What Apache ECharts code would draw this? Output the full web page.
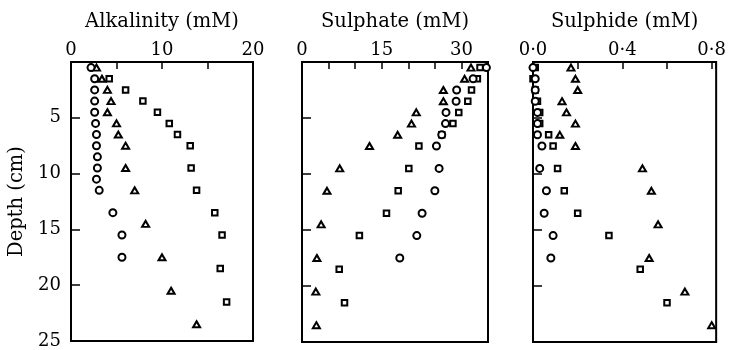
<!DOCTYPE html>
<html>
<head>
<meta charset="utf-8">
<script src="https://cdn.jsdelivr.net/npm/echarts@6/dist/echarts.min.js"></script>
<style>html,body{margin:0;background:#fff}#container1{width:729px;height:350px}</style>
</head>
<body>
<div id="container1"></div>
<script>
// depths (cm) of each marker set
var triangleDepth = [0.5, 1.5, 2.5, 3.5, 4.5, 5.5, 6.5, 7.5, 9.5, 11.5, 14.5, 17.5, 20.5, 23.5];
var squareDepth = [0.5, 1.5, 2.5, 3.5, 4.5, 5.5, 6.5, 7.5, 9.5, 11.5, 13.5, 15.5, 18.5, 21.5];
var circleDepth = [0.5, 1.5, 2.5, 3.5, 4.5, 5.5, 6.5, 7.5, 8.5, 9.5, 10.5, 11.5, 13.5, 15.5, 17.5];

// alkalinity (mM)
var alkTriangle = [2.8, 3.4, 4.0, 4.4, 4.0, 5.0, 5.2, 6.0, 6.0, 7.0, 8.2, 10.0, 11.0, 13.8];
var alkSquare = [null, 4.2, 6.0, 7.9, 9.5, 10.8, 11.7, 13.1, 13.2, 13.8, 15.8, 16.6, 16.4, 17.1];
var alkCircle = [2.2, 2.6, 2.6, 2.6, 2.6, 2.7, 2.8, 2.8, 2.9, 2.9, 2.8, 3.1, 4.6, 5.6, 5.6];

// sulphate (mM)
var so4Triangle = [31.8, 30.6, 26.6, 26.6, 21.5, 20.6, 18.0, 12.7, 7.1, 4.7, 3.6, 2.8, 2.6, 2.7];
var so4Square = [33.5, 33.0, 31.9, 31.2, 29.5, 28.4, 26.3, 22.0, 20.1, 18.1, 15.9, 10.8, 7.0, 8.0];
var so4Circle = [34.7, 32.2, 29.1, 29.0, 27.1, 27.0, 26.3, 25.3, null, 25.8, null, 25.0, 22.6, 21.6, 18.4];

// sulphide (mM)
var h2sTriangle = [0.17, 0.19, 0.20, 0.13, 0.15, 0.19, 0.12, 0.19, 0.49, 0.53, 0.56, 0.52, 0.68, 0.80];
var h2sSquare = [0.01, 0.00, 0.01, 0.02, 0.03, 0.03, 0.07, 0.09, 0.11, 0.14, 0.20, 0.34, 0.48, 0.60];
var h2sCircle = [0.00, 0.01, 0.01, 0.01, 0.02, 0.02, 0.02, 0.04, null, 0.03, null, 0.06, 0.05, 0.09, 0.08];

var panelNames = ['Alkalinity (mM)', 'Sulphate (mM)', 'Sulphide (mM)'];
var xMax = [20, 35, 0.82];
var xStep = [5, 5, 0.2];
var xLabelStep = [10, 15, 0.4];
var depthMax = 25;

var font = 'DejaVu Serif';

function pairs(values, depths) {
    var out = [];
    for (var i = 0; i < values.length; i++) {
        if (values[i] !== null) out.push([values[i], depths[i]]);
    }
    return out;
}

var dom = document.getElementById('container1');
var myChart = echarts.init(dom);

var grids = [
    {left: 71, top: 62, width: 182, height: 280},
    {left: 302, top: 62, width: 186, height: 280},
    {left: 533, top: 62, width: 187, height: 280}
];
grids.forEach(function (g) {
    g.show = true;
    g.borderColor = '#000';
    g.borderWidth = 2;
    g.backgroundColor = 'transparent';
});

var xAxes = [], yAxes = [], series = [];
for (var p = 0; p < 3; p++) {
    (function (p) {
        xAxes.push({
            gridIndex: p,
            type: 'value',
            position: 'top',
            min: 0,
            max: xMax[p],
            interval: xStep[p],
            name: panelNames[p],
            nameLocation: 'middle',
            nameGap: 30,
            nameTextStyle: {fontFamily: font, fontSize: 19.5, color: '#000'},
            axisLine: {show: true, lineStyle: {color: '#000', width: 2}},
            axisTick: {show: true, inside: true, length: 7, lineStyle: {color: '#000', width: 1.5}},
            splitLine: {show: false},
            axisLabel: {
                margin: 3,
                fontFamily: font,
                fontSize: 18,
                color: '#000',
                formatter: function (v) {
                    var k = v / xLabelStep[p];
                    if (Math.abs(k - Math.round(k)) > 1e-6) return '';
                    if (p === 2) return v.toFixed(1).replace('.', '·');
                    return String(v);
                }
            }
        });
        yAxes.push({
            gridIndex: p,
            type: 'value',
            inverse: true,
            min: 0,
            max: depthMax,
            interval: 5,
            name: p === 0 ? 'Depth (cm)' : '',
            nameLocation: 'middle',
            nameGap: 44,
            nameTextStyle: {fontFamily: font, fontSize: 19.5, color: '#000'},
            axisLine: {show: true, lineStyle: {color: '#000', width: 2}},
            axisTick: {show: true, inside: true, length: 9, lineStyle: {color: '#000', width: 1.5}},
            splitLine: {show: false},
            axisLabel: {
                show: p === 0,
                margin: 10,
                fontFamily: font,
                fontSize: 18,
                color: '#000',
                formatter: function (v) { return v === 0 ? '' : String(v); }
            }
        });
    })(p);
}

var sets = [
    [alkTriangle, alkSquare, alkCircle],
    [so4Triangle, so4Square, so4Circle],
    [h2sTriangle, h2sSquare, h2sCircle]
];
var markers = [
    {symbol: 'triangle', size: [7, 6], depth: triangleDepth},
    {symbol: 'rect', size: 5.5, depth: squareDepth},
    {symbol: 'circle', size: 7, depth: circleDepth}
];
for (var i = 0; i < 3; i++) {
    for (var m = 0; m < 3; m++) {
        series.push({
            type: 'scatter',
            xAxisIndex: i,
            yAxisIndex: i,
            symbol: markers[m].symbol,
            symbolSize: markers[m].size,
            itemStyle: {color: '#fff', borderColor: '#000', borderWidth: 2, opacity: 1},
            data: pairs(sets[i][m], markers[m].depth)
        });
    }
}

var option = {
    backgroundColor: '#fff',
    animation: false,
    grid: grids,
    xAxis: xAxes,
    yAxis: yAxes,
    series: series
};
myChart.setOption(option, true);
</script>
</body>
</html>
